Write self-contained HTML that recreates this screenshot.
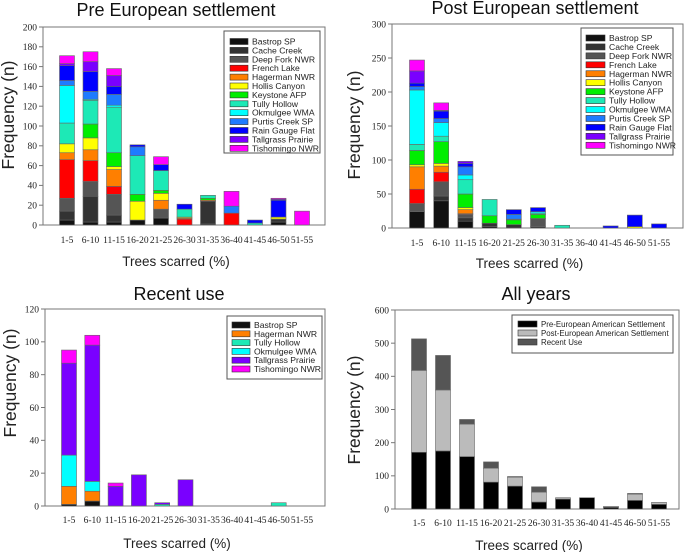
<!DOCTYPE html>
<html><head><meta charset="utf-8"><style>
html,body{margin:0;padding:0;background:#fff;}
svg{display:block;font-family:"Liberation Sans",sans-serif;}
.tick{font-family:"Liberation Serif",serif;font-size:9.5px;fill:#222;}
.leg{font-size:8.6px;fill:#222;}
</style></head><body>
<svg id="fig" width="685" height="552" viewBox="0 0 685 552"></svg>
<script>
const categories = ["1-5","6-10","11-15","16-20","21-25","26-30","31-35","36-40","41-45","46-50","51-55"];
const siteNames = ["Bastrop SP","Cache Creek","Deep Fork NWR","French Lake","Hagerman NWR","Hollis Canyon","Keystone AFP","Tully Hollow","Okmulgee WMA","Purtis Creek SP","Rain Gauge Flat","Tallgrass Prairie","Tishomingo NWR"];
const siteColors = ["#111111","#333333","#555555","#ff0000","#ff7f00","#ffff00","#00ee00","#1de9b6","#00ffff","#1e7bff","#0000ff","#7a00ff","#ff00ff"];
// Pre European: rows = sites, cols = categories
const preBastrop   = [5,3,3,5,7,0,1,0,0,3,0];
const preCache     = [9,26,7,0,0,0,23,0,0,3,0];
const preDeepFork  = [13,15,21,0,9,0,0,0,0,0,0];
const preFrench    = [39,21,8,0,0,6,0,12,0,0,0];
const preHagerman  = [7,11,17,0,9,1,1,0,0,0,0];
const preHollis    = [9,12,3,19,7,1,0,0,0,2,0];
const preKeystone  = [0,14,14,7,3,0,2,0,0,0,0];
const preTully     = [21,24,46,39,20,8,3,0,2,0,0];
const preOkmulgee  = [38,1,2,0,0,0,0,0,0,0,0];
const prePurtis    = [5,8,11,9,0,0,0,7,0,0,0];
const preRain      = [15,20,8,2,6,5,0,0,3,17,0];
const preTallgrass = [2,10,11,0,0,0,0,0,0,1,0];
const preTish      = [8,10,7,0,8,0,0,15,0,1,14];
// Post European
const postBastrop   = [24,40,10,2,0,0,0,0,0,0,0];
const postCache     = [0,7,5,5,5,2,0,0,0,0,0];
const postDeepFork  = [12,21,5,0,0,12,0,0,0,0,0];
const postFrench    = [21,14,1,0,0,0,0,0,0,0,0];
const postHagerman  = [33,9,6,0,0,0,0,0,0,0,0];
const postHollis    = [3,4,3,0,0,0,0,0,0,2,0];
const postKeystone  = [21,32,20,11,7,6,0,0,0,0,0];
const postTully     = [9,8,21,24,1,2,4,0,0,0,0];
const postOkmulgee  = [80,20,7,0,0,2,0,0,0,0,0];
const postPurtis    = [5,6,12,0,7,0,0,0,0,0,0];
const postRain      = [5,11,5,0,7,6,0,0,3,17,6];
const postTallgrass = [18,1,3,0,0,0,0,0,0,0,0];
const postTish      = [16,11,0,0,0,0,0,0,0,0,0];
// Recent use
const recentNames = ["Bastrop SP","Hagerman NWR","Tully Hollow","Okmulgee WMA","Tallgrass Prairie","Tishomingo NWR"];
const recentColors = ["#111111","#ff7f00","#1de9b6","#00ffff","#7a00ff","#ff00ff"];
const recBastrop   = [1,3,0,0,0,0,0,0,0,0,0];
const recHagerman  = [11,6,0,0,0,0,0,0,0,0,0];
const recTully     = [0,0,0,0,1,0,0,0,0,2,0];
const recOkmulgee  = [19,6,0,0,0,0,0,0,0,0,0];
const recTallgrass = [56,83,12,19,1,16,0,0,0,0,0];
const recTish      = [8,6,2,0,0,0,0,0,0,0,0];
// All years
const allNames = ["Pre-European American Settlement","Post-European American Settlement","Recent Use"];
const allColors = ["#000000","#bbbbbb","#555555"];
const allPre    = [171,175,158,81,69,21,30,34,5,26,14];
const allPost   = [247,184,98,42,27,30,4,0,3,19,6];
const allRecent = [95,104,14,19,2,16,0,0,0,2,0];

const NS="http://www.w3.org/2000/svg";
const svg=document.getElementById('fig');
function mk(tag,attrs,parent,text){const e=document.createElementNS(NS,tag);for(const k in attrs)e.setAttribute(k,attrs[k]);if(text!==undefined)e.textContent=text;(parent||svg).appendChild(e);return e;}

function panel(cfg){
  const g=mk('g',{});
  
  
  const y=v=>cfg.bottom-(v/cfg.ymax)*(cfg.bottom-cfg.top);
  const x=i=>cfg.c0+i*(cfg.c1-cfg.c0)/(categories.length-1);
  const t=mk('text',{x:cfg.tx,y:cfg.ty,'text-anchor':'middle','font-size':18,fill:'#111'},g,cfg.title);
  
  
  const fr=mk('rect',{x:cfg.left,y:cfg.top,width:cfg.right-cfg.left,height:cfg.bottom-cfg.top,fill:'none',stroke:'#777','stroke-width':1},g);
  
  
  for(let v=0;v<=cfg.ymax;v+=cfg.step){
    mk('line',{x1:cfg.left-4,x2:cfg.left,y1:y(v),y2:y(v),stroke:'#777'},g);
    const tl=mk('text',{x:cfg.left-6,y:y(v)+3.3,'text-anchor':'end',class:'tick'},g,String(v));
    
    
  }
  categories.forEach((c,i)=>{
    const tl=mk('text',{x:x(i),y:cfg.xly,'text-anchor':'middle',class:'tick'},g,c);
    
    
  });
  const xt=mk('text',{x:(cfg.left+cfg.right)/2-8,y:cfg.xty,'text-anchor':'middle','font-size':13.5,fill:'#222'},g,'Trees scarred (%)');
  
  
  const yt=mk('text',{x:0,y:0,'text-anchor':'middle','font-size':17.5,fill:'#222',transform:`translate(${cfg.ytx},${cfg.yty}) rotate(-90)`},g,'Frequency (n)');
  
  
  categories.forEach((c,i)=>{
    let acc=0;
    cfg.series.forEach((s,k)=>{
      const v=s[i]; if(!v) return;
      const r=mk('rect',{x:x(i)-cfg.bw/2,y:y(acc+v),width:cfg.bw,height:y(acc)-y(acc+v),fill:cfg.colors[k],stroke:'#666','stroke-width':0.6},g);
      
      
      acc+=v;
    });
  });
  const L=cfg.leg;
  const lb=mk('rect',{x:L.x,y:L.y,width:L.w,height:L.h,fill:'#fff',stroke:'#555','stroke-width':1},g);
  
  
  cfg.names.forEach((n,k)=>{
    const cy=L.y+L.first+k*L.sp;
    const sw=mk('rect',{x:L.x+L.sx,y:cy-3,width:L.sw,height:6,fill:cfg.colors[k],stroke:'#333','stroke-width':0.6},g);
    
    
    const tx=mk('text',{x:L.x+L.sx+L.sw+4,y:cy+3,class:'leg','font-size':L.fs||8.6,style:'font-size:'+(L.fs||8.6)+'px'},g,n);
    
    
  });
}

panel({id:'pre',title:'Pre European settlement',tx:176,ty:16,left:43,right:325,top:27,bottom:225,ymax:200,step:20,c0:67,c1:302,bw:15,xly:243,xty:266,ytx:14,yty:115,
  series:[preBastrop,preCache,preDeepFork,preFrench,preHagerman,preHollis,preKeystone,preTully,preOkmulgee,prePurtis,preRain,preTallgrass,preTish],
  colors:siteColors,names:siteNames,leg:{x:224,y:31,w:96,h:122,first:10.5,sp:8.9,sx:6,sw:18}});
panel({id:'post',title:'Post European settlement',tx:535,ty:14,left:392,right:683,top:24,bottom:228,ymax:300,step:50,c0:417,c1:659,bw:15,xly:246,xty:268,ytx:360,yty:125,
  series:[postBastrop,postCache,postDeepFork,postFrench,postHagerman,postHollis,postKeystone,postTully,postOkmulgee,postPurtis,postRain,postTallgrass,postTish],
  colors:siteColors,names:siteNames,leg:{x:581,y:28,w:92,h:127,first:10,sp:8.94,sx:5,sw:19}});
panel({id:'recent',title:'Recent use',tx:179,ty:300,left:45,right:325,top:309,bottom:506,ymax:120,step:20,c0:69,c1:302,bw:15,xly:523,xty:548,ytx:16,yty:383,
  series:[recBastrop,recHagerman,recTully,recOkmulgee,recTallgrass,recTish],
  colors:recentColors,names:recentNames,leg:{x:227,y:316,w:95,h:63,first:9,sp:8.8,sx:5,sw:18}});
panel({id:'all',title:'All years',tx:536,ty:300,left:395,right:679,top:310,bottom:509,ymax:600,step:100,c0:419,c1:659,bw:15,xly:526,xty:550,ytx:360,yty:410,
  series:[allPre,allPost,allRecent],
  colors:allColors,names:allNames,leg:{x:512,y:315,w:161,h:38,first:9,sp:9,sx:6,sw:19,fs:7.9}});
</script>
</body></html>
